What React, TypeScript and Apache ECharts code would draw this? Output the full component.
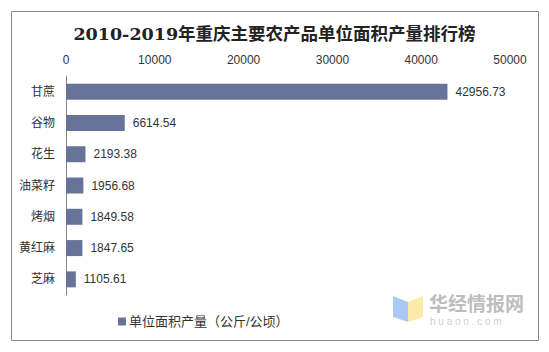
import React, { useEffect, useRef } from "react";
import * as echarts from "echarts";

const categories = ["甘蔗", "谷物", "花生", "油菜籽", "烤烟", "黄红麻", "芝麻"];
const values = [42956.73, 6614.54, 2193.38, 1956.68, 1849.58, 1847.65, 1105.61];
const seriesName = "单位面积产量（公斤/公顷）";
const titleText = "2010-2019年重庆主要农产品单位面积产量排行榜";

export default function App() {
  const ref = useRef<HTMLDivElement>(null);
  useEffect(() => {
    const chart = echarts.init(ref.current!, null, { renderer: "svg" });
    const font = "'Liberation Sans', 'Noto Sans CJK SC', sans-serif";
    chart.setOption({
      animation: false,
      backgroundColor: "#fff",
      title: {
        text: titleText,
        left: "center",
        top: 20,
        textStyle: {
          fontSize: 17.5,
          fontWeight: "bold",
          color: "#222",
          fontFamily: "'DejaVu Serif', 'Noto Sans CJK SC', serif",
        },
      },
      grid: { left: 66, right: 39, top: 76, bottom: 57 },
      xAxis: {
        type: "value",
        position: "top",
        min: 0,
        max: 50000,
        interval: 10000,
        axisLine: { show: false },
        axisTick: { show: false },
        splitLine: { show: false },
        axisLabel: {
          color: "#333",
          fontSize: 12,
          fontFamily: font,
          margin: 10,
          formatter: (v: number) => String(v),
        },
      },
      yAxis: {
        type: "category",
        inverse: true,
        data: categories,
        axisLine: { show: true, lineStyle: { color: "#888", width: 1 } },
        axisTick: { show: false },
        axisLabel: { color: "#333", fontSize: 12, fontFamily: font, margin: 11 },
      },
      legend: {
        bottom: 19,
        left: 113,
        itemWidth: 8,
        itemHeight: 8,
        itemGap: 3,
        icon: "rect",
        textStyle: { color: "#333", fontSize: 13, fontFamily: font, padding: [0, 0, 0, -2] },
        data: [seriesName],
      },
      series: [
        {
          name: seriesName,
          type: "bar",
          data: values,
          barWidth: 16,
          itemStyle: { color: "#68739a" },
          label: {
            show: true,
            position: "right",
            distance: 8,
            color: "#333",
            fontSize: 12,
            fontFamily: font,
            formatter: (p: any) => p.value.toFixed(2),
          },
        },
      ],
      graphic: [
        {
          type: "rect",
          shape: { x: 11.5, y: 11.5, width: 527, height: 329 },
          style: { fill: "none", stroke: "#888", lineWidth: 1 },
          silent: true,
        },
        {
          type: "polygon",
          shape: { points: [[393, 296], [408, 302], [408, 322], [393, 317]] },
          style: { fill: "#a9c9f7" },
          silent: true,
        },
        {
          type: "polygon",
          shape: { points: [[408, 302], [423, 296], [423, 317], [408, 322]] },
          style: { fill: "#fbeaa9" },
          silent: true,
        },
        {
          type: "text",
          x: 429,
          y: 293,
          style: {
            text: "华经情报网",
            fill: "#bdbdbd",
            font: "bold 19px 'Noto Sans CJK SC', sans-serif",
          },
          silent: true,
        },
        {
          type: "text",
          x: 430,
          y: 316,
          style: {
            text: "h u a o n . c o m",
            fill: "#cfcfcf",
            font: "10px 'Liberation Sans', sans-serif",
          },
          silent: true,
        },
      ],
    });
    return () => chart.dispose();
  }, []);
  return (
    <div
      ref={ref}
      style={{ position: "fixed", left: 0, top: 0, width: 549, height: 352 }}
    />
  );
}
